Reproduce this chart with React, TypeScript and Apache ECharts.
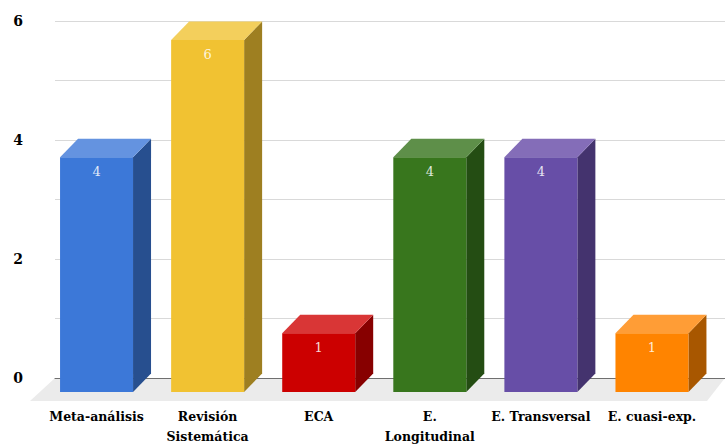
import React, { useEffect, useRef } from "react";
import * as echarts from "echarts";

const categories = [
  "Meta-análisis",
  "Revisión\nSistemática",
  "ECA",
  "E.\nLongitudinal",
  "E. Transversal",
  "E. cuasi-exp.",
];
const values = [4, 6, 1, 4, 4, 1];
const frontColors = ["#3c78d8", "#f1c232", "#cc0000", "#38761d", "#674ea7", "#ff8400"];
const topColors = ["#6493e0", "#f3cf5c", "#d93636", "#5e8f49", "#846db8", "#ff9d36"];
const sideColors = ["#274f8f", "#9e7f21", "#870000", "#244d13", "#44336e", "#a85700"];

const DEPTH_X = 18;
const DEPTH_Y = 18.5;
const SERIF = "DejaVu Serif";

export default function App() {
  const ref = useRef<HTMLDivElement>(null);
  useEffect(() => {
    if (!ref.current) return;
    const chart = echarts.init(ref.current, null, { renderer: "svg" });
    const option: any = {
      animation: false,
      backgroundColor: "#ffffff",
      textStyle: { fontFamily: SERIF },
      graphic: [
        {
          type: "polygon",
          z: 0,
          silent: true,
          shape: {
            points: [
              [55, 378],
              [725, 378],
              [707, 401],
              [30, 401],
            ],
          },
          style: { fill: "#ebebeb" },
        },
      ],
      grid: [
        { left: 55, right: 0, top: 21, bottom: 68 },
        { left: 41, right: 17.5, top: 40, bottom: 50 },
      ],
      xAxis: [
        {
          gridIndex: 0,
          type: "category",
          data: categories,
          axisLine: { show: true, lineStyle: { color: "#6f6f6f", width: 1 } },
          axisTick: { show: false },
          axisLabel: { show: false },
          z: 3,
        },
        {
          gridIndex: 1,
          type: "category",
          data: categories,
          axisLine: { show: false },
          axisTick: { show: false },
          axisLabel: {
            show: true,
            interval: 0,
            margin: 14,
            color: "#000000",
            fontFamily: SERIF,
            fontWeight: "bold",
            fontSize: 12.5,
            lineHeight: 20,
          },
        },
      ],
      yAxis: [
        {
          gridIndex: 0,
          type: "value",
          min: 0,
          max: 6,
          interval: 1,
          axisLine: { show: false },
          axisTick: { show: false },
          splitLine: { show: true, lineStyle: { color: "#d9d9d9", width: 1 } },
          axisLabel: {
            margin: 32,
            color: "#000000",
            fontFamily: SERIF,
            fontWeight: "bold",
            fontSize: 14,
            formatter: (v: number) => (v % 2 === 0 ? String(v) : ""),
          },
        },
        {
          gridIndex: 1,
          type: "value",
          min: 0,
          max: 6,
          show: false,
        },
      ],
      series: [
        {
          type: "custom",
          xAxisIndex: 1,
          yAxisIndex: 1,
          z: 5,
          data: values.map((v, i) => [i, v]),
          renderItem: (params: any, api: any) => {
            const idx = api.value(0);
            const val = api.value(1);
            const base = api.coord([idx, 0]);
            const top = api.coord([idx, val]);
            const band = api.size([1, 0])[0];
            const w = band * 0.657;
            const x0 = top[0] - w / 2;
            const yt = top[1];
            const yb = base[1];
            const i = params.dataIndex;
            return {
              type: "group",
              children: [
                {
                  type: "polygon",
                  shape: {
                    points: [
                      [x0 + w, yt],
                      [x0 + w + DEPTH_X, yt - DEPTH_Y],
                      [x0 + w + DEPTH_X, yb - DEPTH_Y],
                      [x0 + w, yb],
                    ],
                  },
                  style: { fill: sideColors[i] },
                },
                {
                  type: "polygon",
                  shape: {
                    points: [
                      [x0, yt],
                      [x0 + DEPTH_X, yt - DEPTH_Y],
                      [x0 + w + DEPTH_X, yt - DEPTH_Y],
                      [x0 + w, yt],
                    ],
                  },
                  style: { fill: topColors[i] },
                },
                {
                  type: "rect",
                  shape: { x: x0, y: yt, width: w, height: yb - yt },
                  style: { fill: frontColors[i] },
                },
                {
                  type: "text",
                  x: top[0],
                  y: yt + 14,
                  style: {
                    text: String(val),
                    fill: "rgba(255,255,255,0.85)",
                    fontFamily: SERIF,
                    fontSize: 13,
                    align: "center",
                    verticalAlign: "middle",
                  },
                },
              ],
            };
          },
        },
      ],
    };
    chart.setOption(option);
    return () => chart.dispose();
  }, []);
  return (
    <div
      ref={ref}
      style={{ position: "fixed", left: 0, top: 0, width: 725, height: 446 }}
    />
  );
}
